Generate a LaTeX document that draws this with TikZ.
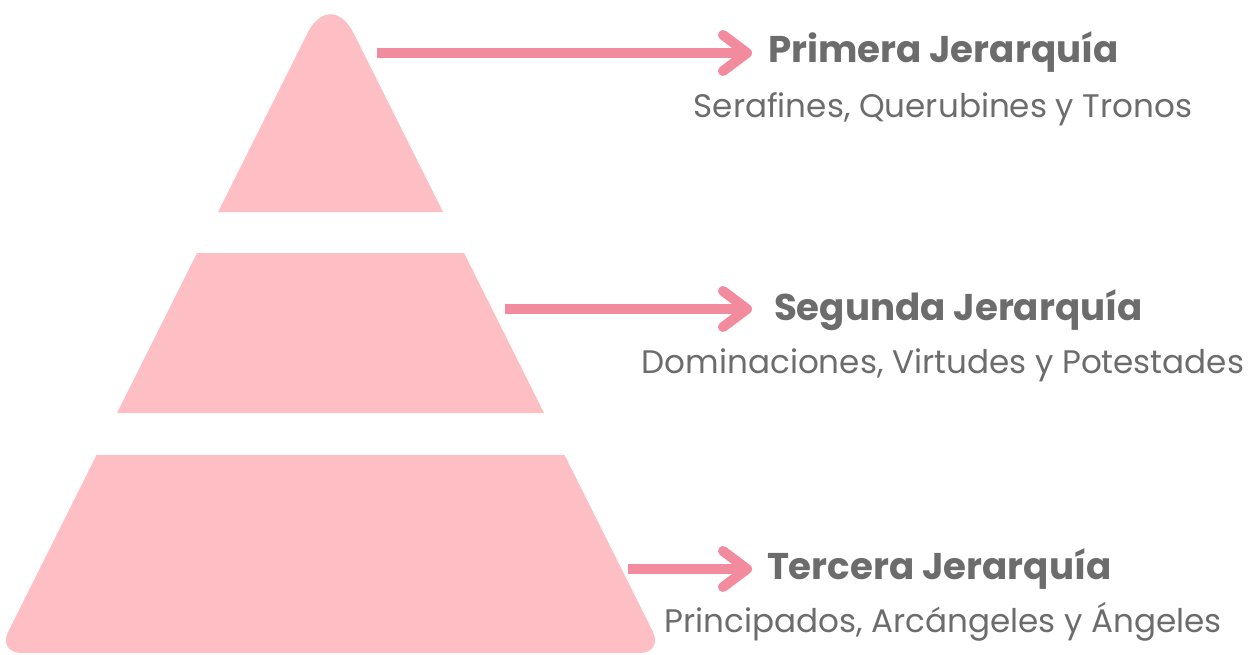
\documentclass[tikz,border=0pt]{standalone}
\usepackage{fontspec}
\setmainfont{Poppins}
\usetikzlibrary{arrows.meta}
\definecolor{piel}{HTML}{FDBFC4}
\definecolor{rosa}{HTML}{F28B9D}
\definecolor{gris}{HTML}{6C6C6C}
\begin{document}
\begin{tikzpicture}[x=0.5pt,y=-0.5pt,line join=round,
	arr/.style={draw=rosa,line width=5pt,-{Straight Barb[round,length=12pt,width=18pt]}},
	head/.style={anchor=base west,inner sep=0pt,outer sep=0pt,text=gris,font=\fontsize{18.6}{22}\selectfont\bfseries},
	sub/.style={anchor=base,inner sep=0pt,text=gris,font=\fontsize{16.3}{19}\selectfont}]
	\useasboundingbox (0,0) rectangle (1248,654);
	% piramide
	\fill[piel] (218,212)[rounded corners=26pt]--(330.5,-13)[sharp corners]--(443,212)--cycle;
	\fill[piel] (197,253)--(464,253)--(544,413)--(117,413)--cycle;
	\fill[piel] (96.5,455)--(564.5,455)[rounded corners=12pt]--(663.5,653)--(-2.5,653)[sharp corners]--cycle;
	% textos
	\node[head] (h1) at (768,62) {Primera Jerarquía};
	\node[sub] (d1) at (943,117) {Serafines, Querubines y Tronos};
	\node[head] (h2) at (774,320) {Segunda Jerarquía};
	\node[sub] (d2) at (943,373) {Dominaciones, Virtudes y Potestades};
	\node[head] (h3) at (767,579) {Tercera Jerarquía};
	\node[sub] (d3) at (943,632) {Principados, Arcángeles y Ángeles};
	% flechas
	\coordinate (s1) at (377,53);
	\coordinate (s2) at (505,309);
	\coordinate (s3) at (628,569);
	\draw[arr] (s1)--([xshift=-8pt]s1 -| h1.west);
	\draw[arr] (s2)--([xshift=-11pt]s2 -| h2.west);
	\draw[arr] (s3)--([xshift=-7.5pt]s3 -| h3.west);
\end{tikzpicture}
\end{document}
